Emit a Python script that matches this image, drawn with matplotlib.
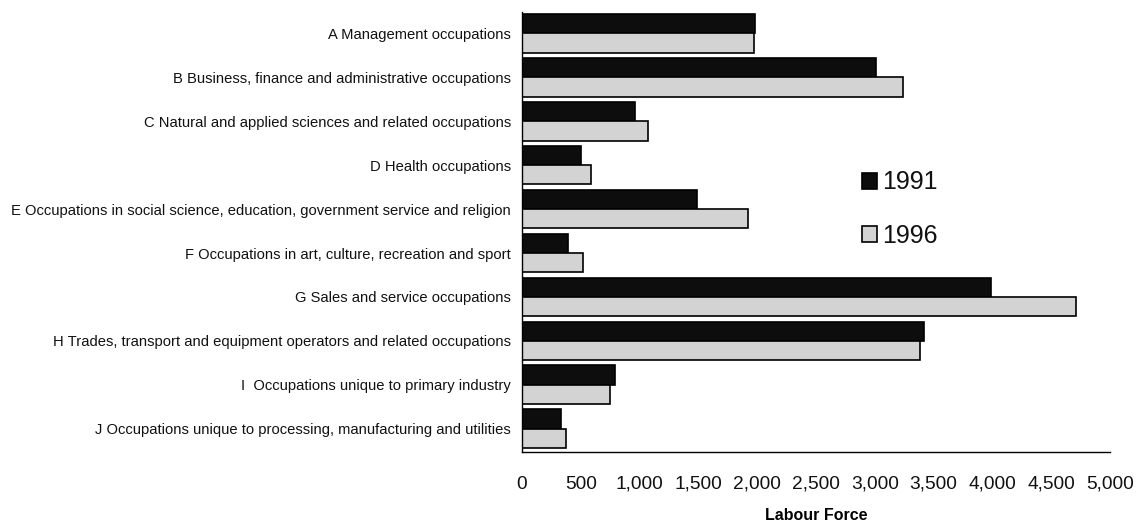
import matplotlib.pyplot as plt
from matplotlib.ticker import FuncFormatter

plt.rcParams['font.family'] = ['Liberation Sans', 'DejaVu Sans']

categories = [
    'A Management occupations',
    'B Business, finance and administrative occupations',
    'C Natural and applied sciences and related occupations',
    'D Health occupations',
    'E Occupations in social science, education, government service and religion',
    'F Occupations in art, culture, recreation and sport',
    'G Sales and service occupations',
    'H Trades, transport and equipment operators and related occupations',
    'I  Occupations unique to primary industry',
    'J Occupations unique to processing, manufacturing and utilities',
]
labour_1991 = [1980, 3010, 965, 505, 1490, 395, 3990, 3415, 790, 335]
labour_1996 = [1970, 3240, 1070, 585, 1920, 515, 4710, 3385, 745, 375]

fig = plt.figure(figsize=(11.38, 5.25), dpi=100)
ax = fig.add_axes([0.4587, 0.139, 0.5167, 0.838])

n = len(categories)
pos = list(range(n))
h = 0.44
ax.barh([p - h / 2 for p in pos], labour_1991, height=h, color='#0d0d0d',
        edgecolor='black', linewidth=1.2, label='1991')
ax.barh([p + h / 2 for p in pos], labour_1996, height=h, color='#d3d3d3',
        edgecolor='black', linewidth=1.2, label='1996')

ax.set_ylim(9.53, -0.485)
ax.set_xlim(0, 5000)
ax.set_yticks(pos)
ax.set_yticklabels(categories, fontsize=10.6, color='#111111')
ax.set_xticks(range(0, 5001, 500))
ax.xaxis.set_major_formatter(FuncFormatter(lambda v, p: f'{int(v):,}'))
ax.tick_params(axis='x', length=0, pad=17, labelsize=13.8, labelcolor='#111111')
ax.tick_params(axis='y', length=0, pad=8)

for s in ['top', 'right']:
    ax.spines[s].set_visible(False)
ax.spines['left'].set_linewidth(1)
ax.spines['bottom'].set_linewidth(1)

ax.set_xlabel('Labour Force', fontsize=11.5, fontweight='bold', labelpad=11)

leg = ax.legend(loc='upper left', bbox_to_anchor=(0.578, 0.64), frameon=False,
                fontsize=18, handlelength=0.6, handleheight=0.6,
                handletextpad=0.2, labelspacing=1.17, borderaxespad=0,
                borderpad=0)
for t in leg.get_texts():
    t.set_color('#111111')

fig.savefig('out.png', dpi=100)
